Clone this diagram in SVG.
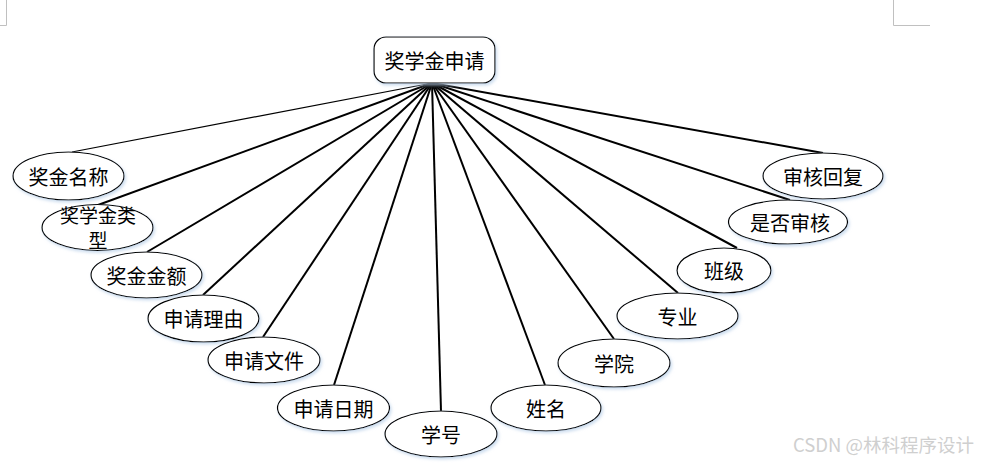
<svg xmlns="http://www.w3.org/2000/svg" width="981" height="463" viewBox="0 0 981 463">
<style>
.bg{fill:#ffffff}
.node ellipse,.node rect{fill:#ffffff;stroke:#000000;stroke-width:1.2;filter:url(#sh)}
.node text{font-family:"Noto Sans CJK SC","Noto Sans",sans-serif;font-size:20px;fill:#000000;text-anchor:middle;dominant-baseline:central}
.node text.sm{font-size:19px}
.conn line{stroke:#000000;stroke-width:2}
.mark{stroke:#c0c0c0;stroke-width:1;fill:none}
.wm{font-family:"Noto Sans CJK SC","Liberation Sans",sans-serif;font-size:18.5px;fill:#cfcfcf}
</style>
<defs>
<filter id="sh" x="-20%" y="-30%" width="140%" height="170%">
<feDropShadow dx="1.5" dy="2" stdDeviation="1.5" flood-color="#b8cfe8" flood-opacity="0.7"/>
</filter>
</defs>
<rect class="bg" x="0" y="0" width="981" height="463"/>
<path class="mark" d="M6.5,0 V25.5 H0"/>
<path class="mark" d="M893.5,0 V25.5 H930"/>
<g id="connectors" class="conn">
<line x1="432" y1="83" x2="72" y2="152" style="stroke-width:1.2"/>
<line x1="432" y1="83" x2="98" y2="205"/>
<line x1="432" y1="83" x2="147" y2="252"/>
<line x1="432" y1="83" x2="203" y2="295"/>
<line x1="432" y1="83" x2="263" y2="337"/>
<line x1="432" y1="83" x2="334" y2="385"/>
<line x1="432" y1="83" x2="441" y2="411"/>
<line x1="432" y1="83" x2="545" y2="385"/>
<line x1="432" y1="83" x2="614" y2="339"/>
<line x1="432" y1="83" x2="678" y2="293"/>
<line x1="432" y1="83" x2="737" y2="248"/>
<line x1="432" y1="83" x2="790" y2="200"/>
<line x1="432" y1="83" x2="823" y2="153"/>
</g>
<g id="n-root" class="node"><rect x="374" y="37" width="121" height="46" rx="12" ry="12"/><text x="434.5" y="60">奖学金申请</text></g>
<g id="n1" class="node"><ellipse cx="68.5" cy="176" rx="55.5" ry="24"/><text x="68.5" y="176">奖金名称</text></g>
<g id="n2" class="node"><ellipse cx="97.5" cy="227.5" rx="55.5" ry="23"/><text class="sm" x="98" y="214">奖学金类</text><text class="sm" x="98" y="239">型</text></g>
<g id="n3" class="node"><ellipse cx="146.5" cy="275" rx="55.5" ry="23"/><text x="146.5" y="275">奖金金额</text></g>
<g id="n4" class="node"><ellipse cx="203.5" cy="318.5" rx="55.5" ry="23.5"/><text x="203.5" y="318.5">申请理由</text></g>
<g id="n5" class="node"><ellipse cx="264" cy="360" rx="56" ry="23"/><text x="264" y="360">申请文件</text></g>
<g id="n6" class="node"><ellipse cx="333.5" cy="408" rx="56" ry="23"/><text x="333.5" y="408">申请日期</text></g>
<g id="n7" class="node"><ellipse cx="441" cy="434" rx="56" ry="23"/><text x="441" y="434">学号</text></g>
<g id="n8" class="node"><ellipse cx="546" cy="408" rx="55" ry="23"/><text x="546" y="408">姓名</text></g>
<g id="n9" class="node"><ellipse cx="614" cy="363" rx="56" ry="24"/><text x="614" y="363">学院</text></g>
<g id="n10" class="node"><ellipse cx="677.5" cy="316" rx="60.5" ry="23"/><text x="677.5" y="316">专业</text></g>
<g id="n11" class="node"><ellipse cx="724" cy="270.5" rx="47" ry="22.5"/><text x="724" y="270.5">班级</text></g>
<g id="n12" class="node"><ellipse cx="788" cy="222" rx="59.5" ry="22"/><text x="790" y="222">是否审核</text></g>
<g id="n13" class="node"><ellipse cx="823" cy="176" rx="60" ry="23"/><text x="823" y="176">审核回复</text></g>
<text class="wm" x="793" y="452">CSDN @林科程序设计</text>
</svg>
